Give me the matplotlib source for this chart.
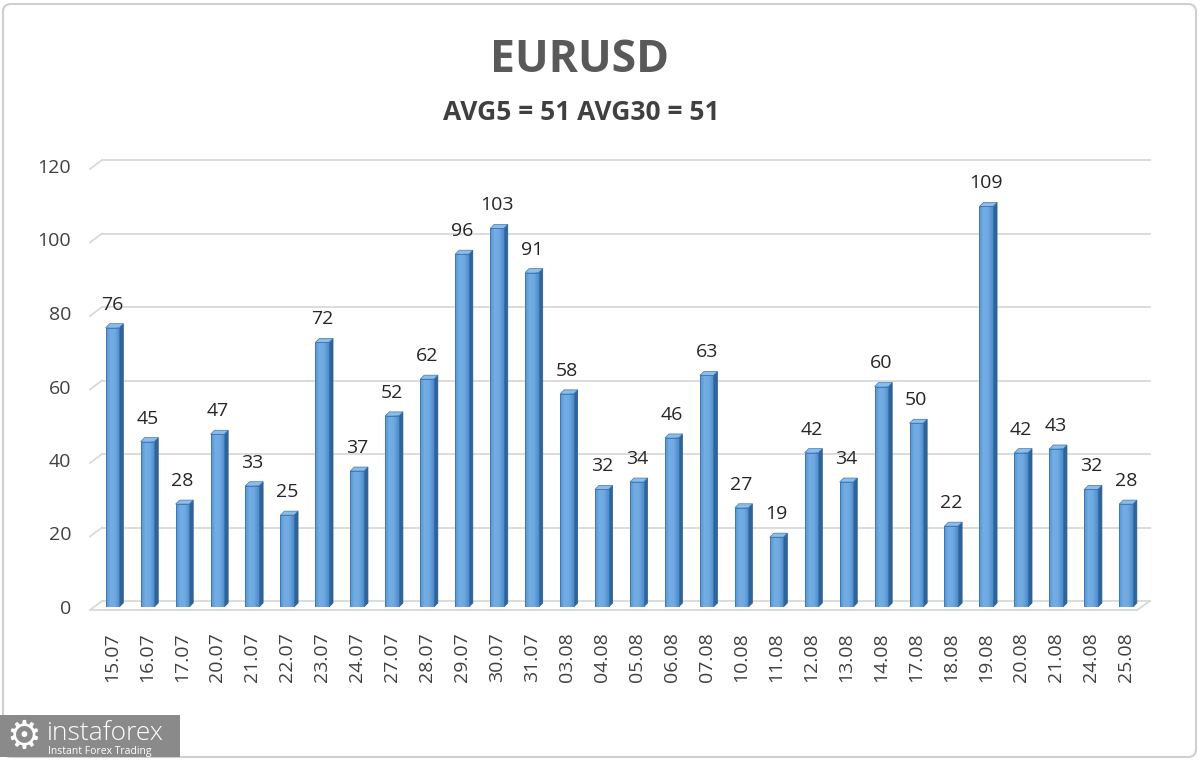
import matplotlib
matplotlib.use("Agg")
import matplotlib.pyplot as plt
import numpy as np
from matplotlib.patches import Polygon, FancyBboxPatch, Rectangle
from matplotlib.transforms import ScaledTranslation
from matplotlib.colors import LinearSegmentedColormap

dates = ["15.07", "16.07", "17.07", "20.07", "21.07", "22.07", "23.07", "24.07",
         "27.07", "28.07", "29.07", "30.07", "31.07", "03.08", "04.08", "05.08",
         "06.08", "07.08", "10.08", "11.08", "12.08", "13.08", "14.08", "17.08",
         "18.08", "19.08", "20.08", "21.08", "24.08", "25.08"]
values = [76, 45, 28, 47, 33, 25, 72, 37, 52, 62, 96, 103, 91, 58, 32, 34,
          46, 63, 27, 19, 42, 34, 60, 50, 22, 109, 42, 43, 32, 28]
y_ticks = [0, 20, 40, 60, 80, 100, 120]
title = "EURUSD"
subtitle = "AVG5 = 51 AVG30 = 51"

plt.rcParams['font.family'] = ['Open Sans', 'DejaVu Sans']

W, H = 1200, 760
fig = plt.figure(figsize=(12, 7.6), dpi=100)
fig.patch.set_facecolor('white')


def fx(px):
    return px / W


def fy(py):
    return 1 - py / H


L, R, B, T = 90, 1150, 607, 166
ax = fig.add_axes([fx(L), fy(B), (R - L) / W, (B - T) / H])
x = np.arange(len(values))
xmin = (L - 112.5) / 34.95
xmax = (R - 112.5) / 34.95
for s in ax.spines.values():
    s.set_visible(False)
ax.patch.set_alpha(0)

ux = (R - L) / (xmax - xmin)
uy = (B - T) / 120.0

grid_c = '#d9d9d9'
# gridlines (back wall with slanted side)
for v in y_ticks:
    yf = v - 3 / uy
    yb = v + 6 / uy
    xb = xmin + 12 / ux
    ax.plot([xmin, xb], [yf, yb], color=grid_c, lw=1.3, clip_on=False, zorder=1)
    ax.plot([xb, xmax], [yb, yb], color=grid_c, lw=1.3, clip_on=False, zorder=1)
# floor front edge
yf0 = 0 - 3 / uy
xfr = xmax - 13 / ux
ax.plot([xmin, xfr], [yf0, yf0], color=grid_c, lw=1.3, clip_on=False, zorder=1)
ax.plot([xfr, xmax], [yf0, 0 + 6 / uy], color=grid_c, lw=1.3, clip_on=False, zorder=1)

# bars
cmap = LinearSegmentedColormap.from_list('bar', ['#5594d2', '#74aee4', '#6ea8e0', '#4d8ccb'])
grad = np.linspace(0, 1, 64).reshape(1, -1)
bw = 0.39
dx = 4 / ux
dy = 4 / uy
for xi, v in zip(x, values):
    xl, xr = xi - bw / 2, xi + bw / 2
    side = Polygon([(xr, 0), (xr + dx, dy), (xr + dx, v + dy), (xr, v)],
                   closed=True, facecolor='#2f649b', edgecolor='#285a8c', lw=0.5, zorder=3)
    top = Polygon([(xl, v), (xl + dx, v + dy), (xr + dx, v + dy), (xr, v)],
                  closed=True, facecolor='#8dbce8', edgecolor='#3f78b3', lw=0.5, zorder=3)
    ax.add_patch(side)
    ax.add_patch(top)
    ax.imshow(grad, extent=[xl, xr, 0, v], aspect='auto', cmap=cmap, zorder=3,
              interpolation='bilinear')
    ax.add_patch(Rectangle((xl, 0), bw, v, fill=False, edgecolor='#3a74ad', lw=0.6, zorder=4))
    ax.annotate(str(v), (xi, v), xytext=(0, 13), textcoords='offset points',
                ha='center', va='baseline', fontsize=14, color='#262626', zorder=5)

ax.set_xlim(xmin, xmax)
ax.set_ylim(0, 120)

ax.set_xticks(x)
ax.set_xticklabels(dates, rotation=90, fontsize=14, color='#404040')
ax.tick_params(axis='x', length=0, pad=18)
ax.set_yticks([])
ylab_tr = ax.transData + ScaledTranslation(-0.19, -0.02, fig.dpi_scale_trans)
for v in y_ticks:
    ax.text(xmin, v, str(v), transform=ylab_tr, ha='right', va='center',
            fontsize=14, color='#404040', clip_on=False)

# titles
fig.text(fx(580), fy(61), title, ha='center', va='center', fontsize=32,
         fontweight='bold', color='#595959')
fig.text(fx(581), fy(112), subtitle, ha='center', va='center', fontsize=19,
         fontweight='bold', color='#404040')

# outer border
border = FancyBboxPatch((3, 3), W - 7, H - 7, boxstyle='round,pad=0,rounding_size=8',
                        transform=None, facecolor='none', edgecolor='#cfcfcf', lw=1.5)
fig.add_artist(border)

# logo
logo = Rectangle((0, 3), 180, 42, transform=None, facecolor='#8a8a8a',
                 edgecolor='none')
fig.add_artist(logo)
fig.text(fx(24), fy(737), '\u2699', ha='center', va='center', fontsize=28,
         color='white', family='DejaVu Sans')
fig.text(fx(47), fy(740), 'instaforex', ha='left', va='baseline', fontsize=19,
         color='white', fontweight='light')
fig.text(fx(48), fy(754), 'Instant Forex Trading', ha='left', va='baseline',
         fontsize=7.5, color='white')

fig.savefig('out.png', dpi=100, facecolor='white')
